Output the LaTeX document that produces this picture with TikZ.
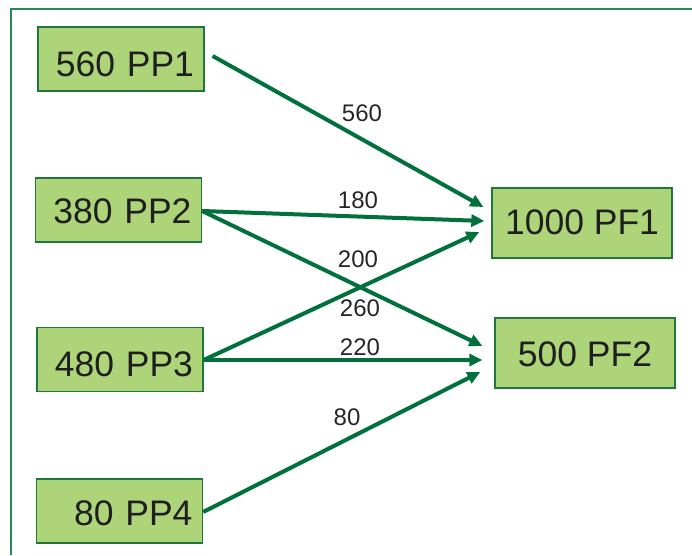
\documentclass[tikz,border=0pt]{standalone}
\usepackage{fontspec}
\setmainfont{Liberation Sans}
\usetikzlibrary{arrows.meta,calc}
\definecolor{flowgreen}{RGB}{0,112,60}
\definecolor{framegreen}{RGB}{35,138,88}
\definecolor{boxfill}{RGB}{174,212,122}
\definecolor{boxline}{RGB}{30,120,62}
\tikzset{
  plantbox/.style={draw=boxline, line width=1.3pt, fill=boxfill,
    minimum height=64pt, inner ysep=0pt, inner xsep=10pt,
    text width=146pt, align=right, text height=26pt, text depth=0pt,
    font=\fontsize{35.5}{38}\selectfont, text=black!88},
  depotbox/.style={draw=boxline, line width=1.3pt, fill=boxfill,
    minimum width=180pt, minimum height=70pt, inner sep=0pt,
    text height=26pt, text depth=0pt,
    font=\fontsize{35.5}{38}\selectfont, text=black!88},
  flow/.style={draw=flowgreen, line width=4pt,
    -{Triangle[length=13pt,width=12pt]}},
  qty/.style={font=\fontsize{24}{26}\selectfont, text=black!85, inner sep=0pt}
}
\begin{document}
\begin{tikzpicture}[x=1pt,y=-1pt]
\useasboundingbox (0,0) rectangle (692,555);
% outer frame (top and left edges)
\draw[framegreen, line width=2pt] (11,555) -- (11,9) -- (692,9);

% production plants
\node[plantbox, text height=34pt] (pp1) at (121,59) {560 PP1};
\node[plantbox] (pp2) at (118.5,210) {380 PP2};
\node[plantbox, text height=33pt] (pp3) at (120,359.5) {480 PP3};
\node[plantbox, text height=28pt] (pp4) at (119.5,511) {80 PP4};

% final destinations
\node[depotbox, text height=23pt] (pf1) at (582,223) {1000 PF1};
\node[depotbox] (pf2) at (585,353) {500 PF2};

% shipments
\draw[flow] ($(pp1.east)+(8,-3)$)  -- ($(pf1.west)+(-8,-16)$);
\draw[flow] ($(pp2.east)+(0,1)$)   -- ($(pf1.west)+(-7,-2)$);
\draw[flow] ($(pp2.east)+(0,1)$)   -- ($(pf2.west)+(-12,-7)$);
\draw[flow] ($(pp3.east)+(0,0.5)$) -- ($(pf1.west)+(-12,9)$);
\draw[flow] ($(pp3.east)+(0,0.5)$) -- ($(pf2.west)+(-12,7)$);
\draw[flow] ($(pp4.east)+(0,1)$)   -- ($(pf2.west)+(-14,19)$);

% quantities
\node[qty] (q560) at (362,113) {560};
\node[qty] (q180) at (358,200.5) {180};
\node[qty] (q200) at (358,259) {200};
\node[qty] (q260) at (360,308) {260};
\node[qty] (q220) at (360,347) {220};
\node[qty] (q80)  at (347,417) {80};
\end{tikzpicture}
\end{document}
